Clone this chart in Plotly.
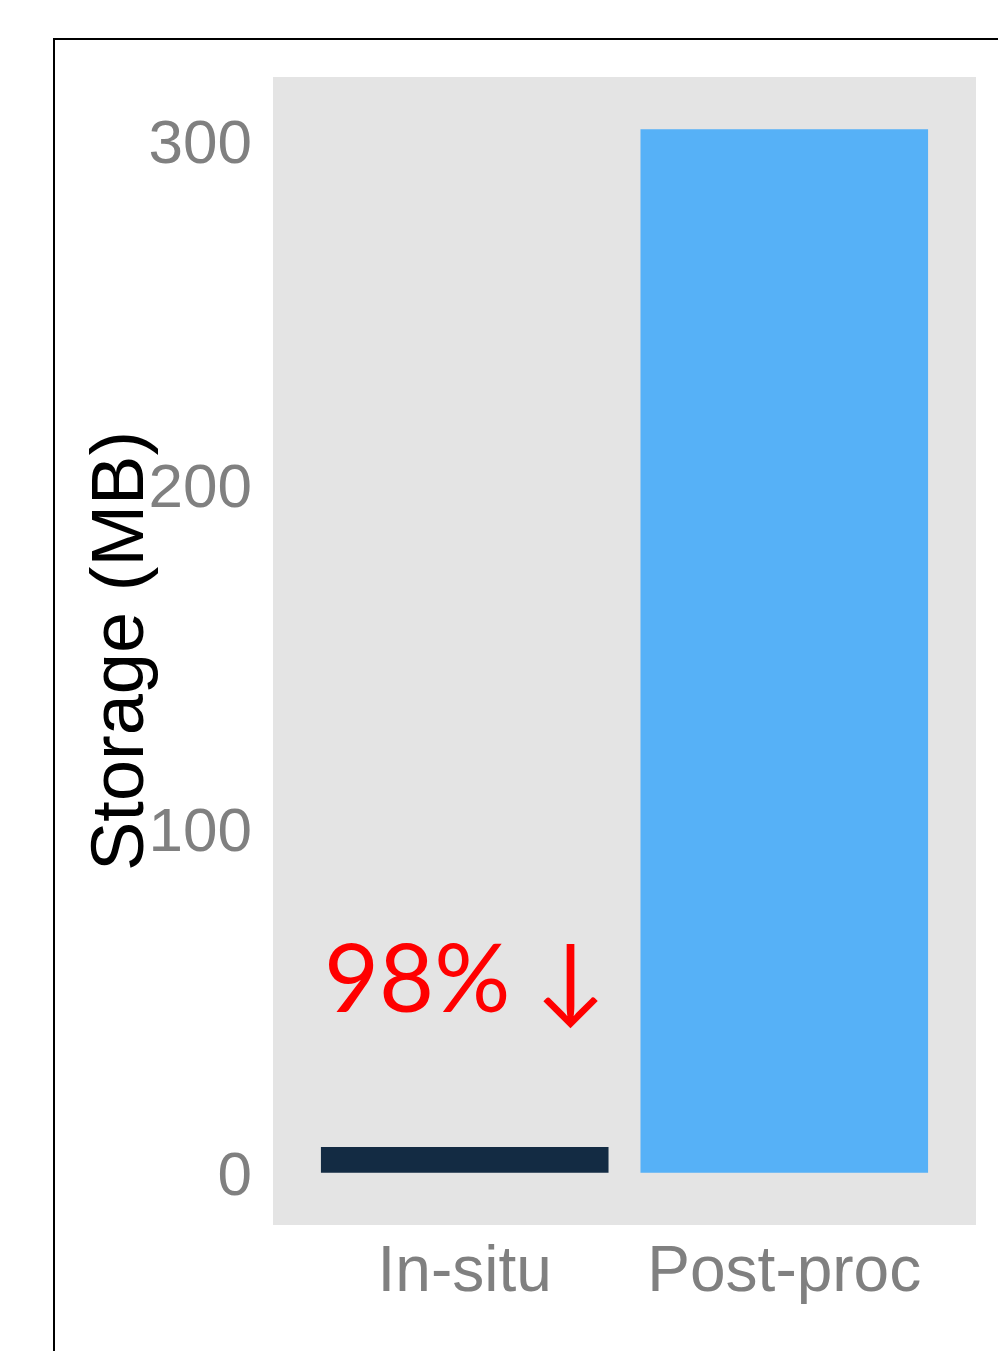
import plotly.graph_objects as go

categories = ["In-situ", "Post-proc"]
storage_mb = [7.5, 303.5]
bar_colors = ["#132B43", "#56B1F7"]
y_ticks = [0, 100, 200, 300]
note_text = "98% ↓"
note_y = 57.5

W, H = 1006, 1351
OFF = 8  # page body margin
L, R, T, B = 273 - OFF, 38, 77 - OFF, 134
pw, ph = W - L - R, H - T - B

ymax = max(storage_mb)
yrange = [-0.05 * ymax, 1.05 * ymax]

fig = go.Figure()
fig.add_trace(go.Bar(
    x=categories, y=storage_mb, width=0.9,
    marker=dict(color=bar_colors, line=dict(width=0)),
    showlegend=False, hoverinfo="skip",
))

fig.add_annotation(
    x=categories[0], y=note_y, xref="x", yref="y", text=note_text,
    showarrow=False, font=dict(family="Lato", size=95, color="#FF0000"),
    xanchor="center", yanchor="middle",
)

fig.add_annotation(
    x=(117 - OFF - L) / pw, y=0.5, xref="paper", yref="paper", text="Storage (MB)",
    textangle=-90, showarrow=False,
    font=dict(family="Liberation Sans, Arial", size=74, color="#000000"),
    xanchor="center", yanchor="middle",
)

# outer frame (partially visible)
fig.add_shape(
    type="rect", xref="paper", yref="paper",
    x0=(54 - OFF - L) / pw, x1=1.2, y0=-0.3, y1=1 + (T - (39 - OFF)) / ph,
    line=dict(color="black", width=2), fillcolor="rgba(0,0,0,0)", layer="below",
)

fig.update_layout(
    width=W, height=H,
    margin=dict(l=L, r=R, t=T, b=B, pad=0),
    paper_bgcolor="white", plot_bgcolor="#E4E4E4",
    bargap=0.1,
    font=dict(family="Liberation Sans, Arial", color="#808080"),
)
fig.update_xaxes(
    range=[-0.6, 1.6], showgrid=False, zeroline=False, showline=False, ticks="",
    tickfont=dict(size=64, color="#808080"), ticklabelstandoff=1,
)
fig.update_yaxes(
    range=yrange, tickvals=y_ticks, showgrid=False, zeroline=False, showline=False,
    ticks="", tickfont=dict(size=62, color="#808080"), ticklabelstandoff=20,
)

fig.write_html("out.html")
